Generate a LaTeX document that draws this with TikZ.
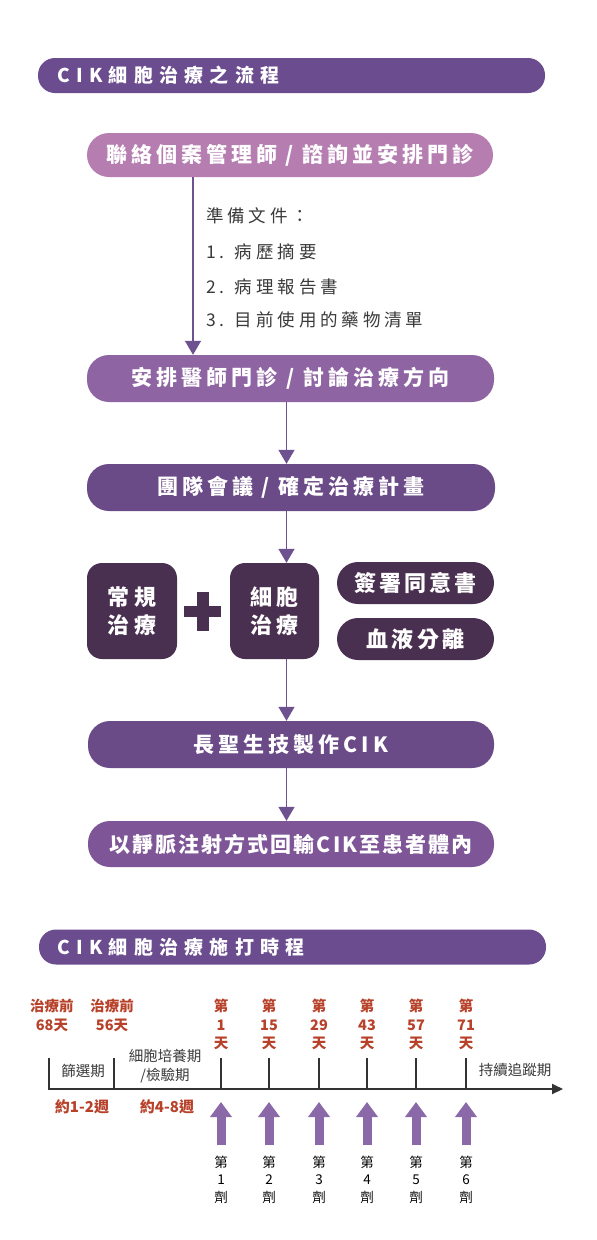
\documentclass[tikz,border=0pt]{standalone}
\usepackage{fontspec}
\setmainfont{Noto Sans CJK TC}
\newfontfamily\hdrfont{Noto Sans CJK TC}[LetterSpace=33]
\newfontfamily\boxfont{Noto Sans CJK TC}[LetterSpace=19]
\newfontfamily\tightfont{Noto Sans CJK TC}[LetterSpace=10]
\newfontfamily\pillfont{Noto Sans CJK TC}[LetterSpace=14]
\newfontfamily\listfont{Noto Sans CJK TC}[LetterSpace=22]
\usetikzlibrary{arrows.meta}
\definecolor{hdrC}{HTML}{6A4C8F}
\definecolor{pinkC}{HTML}{B67DB1}
\definecolor{midC}{HTML}{8E64A3}
\definecolor{deepC}{HTML}{6B4A88}
\definecolor{darkC}{HTML}{4A3050}
\definecolor{lastC}{HTML}{7E5697}
\definecolor{lineC}{HTML}{6E5290}
\definecolor{bigC}{HTML}{8B68A8}
\definecolor{redC}{HTML}{B8412A}
\definecolor{txtC}{HTML}{3A3A3A}
\definecolor{axC}{HTML}{333333}
\tikzset{
  hdrbar/.style={fill=hdrC, rounded corners=17pt, minimum width=507pt, minimum height=35pt, inner sep=0pt},
  hdrtext/.style={anchor=west, text=white, font=\hdrfont\bfseries\fontsize{19}{22}\selectfont, inner sep=0pt},
  flowbox/.style={rounded corners=22pt, text=white, inner sep=0pt, font=\boxfont\bfseries\fontsize{21}{24}\selectfont},
  squarebox/.style={fill=darkC, rounded corners=15pt, text=white, inner sep=0pt, minimum width=90pt, minimum height=96pt, align=center, font=\boxfont\bfseries\fontsize{22}{28}\selectfont},
  pillbox/.style={fill=darkC, rounded corners=21pt, text=white, inner sep=0pt, minimum width=157pt, minimum height=42pt, font=\pillfont\bfseries\fontsize{22}{24}\selectfont},
  listtext/.style={anchor=west, text=txtC, inner sep=0pt, font=\listfont\fontsize{17.5}{20}\selectfont},
  flow/.style={draw=lineC, line width=1.4pt, -{Triangle[width=16pt,length=14pt]}},
  axis/.style={draw=axC, line width=2pt},
  tick/.style={draw=axC, line width=2pt},
  daylbl/.style={text=redC, align=center, inner sep=0pt, font=\bfseries\fontsize{14.5}{18.5}\selectfont},
  redlbl/.style={text=redC, inner sep=0pt, font=\bfseries\fontsize{15}{18}\selectfont},
  phaselbl/.style={text=txtC, align=center, inner sep=0pt, font=\fontsize{14.5}{19}\selectfont},
  doselbl/.style={text=black, align=center, inner sep=0pt, font=\fontsize{13.5}{17.5}\selectfont},
  bigarrow/.style={draw=bigC, line width=9pt, -{Triangle[width=21pt,length=15pt]}},
}
\begin{document}
\begin{tikzpicture}[x=1pt,y=-1pt]
\useasboundingbox (0,0) rectangle (597,1240);
\fill[white] (0,0) rectangle (597,1240);

% ---------- header 1 ----------
\node[hdrbar] (h1) at (291.5,75.5) {};
\node[hdrtext] (h1t) at (57,75.5) {CIK細胞治療之流程};

% ---------- flow ----------
\node[flowbox, fill=pinkC, minimum width=406pt, minimum height=44pt] (b1) at (290,155) {聯絡個案管理師 / 諮詢並安排門診};

\node[listtext] (l0) at (206,216) {準備文件：};
\node[listtext] (l1) at (206,252) {1. 病歷摘要};
\node[listtext] (l2) at (206,287) {2. 病理報告書};
\node[listtext] (l3) at (206,320) {3. 目前使用的藥物清單};

\node[flowbox, fill=midC, minimum width=407pt, minimum height=47pt] (b2) at (290.5,378.5) {安排醫師門診 / 討論治療方向};
\node[flowbox, fill=deepC, minimum width=408pt, minimum height=47pt] (b3) at (291,487.5) {團隊會議 / 確定治療計畫};

\node[squarebox] (s1) at (132,611) {常規\\治療};
\node[squarebox, minimum width=89pt] (s2) at (274.5,611) {細胞\\治療};
\node[pillbox] (p1) at (415.5,583) {簽署同意書};
\node[pillbox] (p2) at (415.5,639) {血液分離};

% plus sign
\fill[darkC] (184,606) rectangle (221,617);
\fill[darkC] (197,592) rectangle (209,631);

\node[flowbox, fill=deepC, minimum width=406pt, minimum height=47pt] (b5) at (291,744.5) {長聖生技製作CIK};
\node[flowbox, fill=lastC, minimum width=406pt, minimum height=46pt, font=\tightfont\bfseries\fontsize{21}{24}\selectfont] (b6) at (291,844) {以靜脈注射方式回輸CIK至患者體內};

\coordinate (xa) at (193,0);
\coordinate (xb) at (286.5,0);
\draw[flow] (b1.south -| xa) -- (b2.north -| xa);
\draw[flow] (b2.south -| xb) -- (b3.north -| xb);
\draw[flow] (b3.south -| xb) -- (s2.north -| xb);
\draw[flow] (s2.south -| xb) -- (b5.north -| xb);
\draw[flow] (b5.south -| xb) -- (b6.north -| xb);

% ---------- header 2 ----------
\node[hdrbar] (h2) at (292.5,947) {};
\node[hdrtext] (h2t) at (57,947) {CIK細胞治療施打時程};

% ---------- timeline ----------
\coordinate (ax0) at (48,1089);
\coordinate (ax1) at (563,1089);
\draw[axis, -{Triangle[width=10pt,length=11pt]}] (ax0) -- (ax1);

\foreach \n/\x in {0/49,1/114,2/221,3/269,4/319,5/367,6/416,7/466}{
  \coordinate (t\n) at (\x,1058);
  \draw[tick] (t\n) -- (t\n |- ax0);
}

\node[daylbl] (pre1) at (52,1015.5) {治療前\\68天};
\node[daylbl] (pre2) at (112,1015.5) {治療前\\56天};
\foreach \n/\x/\d in {2/221/1,3/269/15,4/319/29,5/367/43,6/416/57,7/466/71}{
  \node[daylbl] (d\n) at (\x,1024.5) {第\\\d\\天};
}

\node[phaselbl] (ph1) at (83,1071) {篩選期};
\node[phaselbl] (ph2) at (165,1066.5) {細胞培養期\\/檢驗期};
\node[phaselbl] (ph3) at (515,1070) {持續追蹤期};

\node[redlbl] (w1) at (82,1107) {約1-2週};
\node[redlbl] (w2) at (167,1107) {約4-8週};

\foreach \n/\x/\k in {2/221/1,3/269/2,4/319/3,5/367/4,6/416/5,7/466/6}{
  \coordinate (as\n) at (\x,1145);
  \coordinate (at\n) at (\x,1102);
  \draw[bigarrow] (as\n) -- (at\n);
  \node[doselbl] (q\n) at (\x,1179.5) {第\\\k\\劑};
}
\end{tikzpicture}
\end{document}
